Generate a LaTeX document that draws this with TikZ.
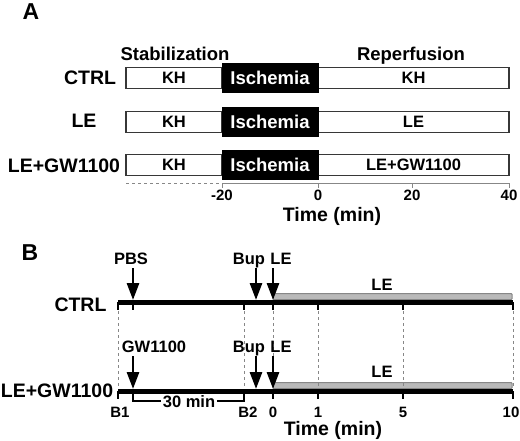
\documentclass[tikz,border=0pt]{standalone}
\usepackage{fontspec}
\setmainfont{Liberation Sans}
\usetikzlibrary{arrows.meta, positioning, calc}
\definecolor{mygray}{RGB}{135,135,135}
\definecolor{mybar}{RGB}{185,185,185}
\definecolor{myedge}{RGB}{55,55,55}

\begin{document}
\begin{tikzpicture}[x=1pt,y=-1pt,
          every node/.style={inner sep=0pt},
          big/.style={font=\fontsize{23}{24}\selectfont\bfseries},
          row/.style={font=\fontsize{19.5}{20}\selectfont\bfseries,anchor=base},
          hdr/.style={font=\fontsize{18.5}{20}\selectfont\bfseries,anchor=base},
          lab/.style={font=\fontsize{16.5}{18}\selectfont\bfseries,anchor=base},
          num/.style={font=\fontsize{15}{16}\selectfont\bfseries,anchor=base},
          wbox/.style={draw=myedge,line width=1.2pt,fill=white,minimum height=21pt,
                       font=\fontsize{16.5}{18}\selectfont\bfseries},
          bbox/.style={draw=black,fill=black,text=white,minimum width=96pt,
                       minimum height=29pt,font=\fontsize{18.5}{20}\selectfont\bfseries},
          tline/.style={line width=5pt},
          tk/.style={line width=1.2pt},
          bar/.style={draw=mygray,fill=mybar,line width=1pt,rounded corners=0.8pt},
          arr/.style={line width=2.8pt,-{Triangle[length=17pt,width=12pt]}},
          vdash/.style={mygray,dashed,line width=0.8pt}]
\useasboundingbox (0,0) rectangle (520,440);

\node[big] (pa) at (31,12) {A};
\node[hdr] (stab) at (175,60) {Stabilization};
\node[hdr] (rep) at (411,60) {Reperfusion};

\node[wbox,minimum width=96pt] (kh1) at (174,78) {KH};
\node[wbox,minimum width=191pt] (re1) at (413.5,78) {KH};
\node[bbox] (isc1) at (270,78) {Ischemia};
\node[row] (ctrlA) at (90,84) {CTRL};

\node[wbox,minimum width=96pt] (kh2) at (174,122) {KH};
\node[wbox,minimum width=191pt] (re2) at (413.5,122) {LE};
\node[bbox] (isc2) at (270,122) {Ischemia};
\node[row] (leA) at (84,127) {LE};

\node[wbox,minimum width=96pt] (kh3) at (174,165) {KH};
\node[wbox,minimum width=191pt] (re3) at (413.5,165) {LE+GW1100};
\node[bbox] (isc3) at (270,165) {Ischemia};
\node[row] (gwA) at (64,172) {LE+GW1100};

\coordinate (ax0) at (126,183);
\coordinate (ax1) at (222,183);
\coordinate (ax4) at (509,183);
\draw[vdash] (ax0) -- (ax1);
\draw[mygray,line width=1pt] (ax1) -- (ax4);
\foreach \x/\t in {222/-20,318/0,412/20,509/40}{
  \draw[mygray,line width=1pt] (\x,183) -- (\x,188);
  \node[num] at (\x,200) {\t};
}
\node[row] (timeA) at (332,221) {Time (min)};

\node[big] (pb) at (30,253) {B};

\coordinate (c0) at (118,302);
\coordinate (c1) at (513,302);
\coordinate (g0) at (118,391);
\coordinate (g1) at (513,391);
\draw[bar] (273,293.5) rectangle (512,299.5);
\draw[bar] (273,382.5) rectangle (512,388.5);
\draw[tline] (c0) -- (c1);
\draw[tline] (g0) -- (g1);

\node[row] (ctrlB) at (80.5,311) {CTRL};
\node[row] (gwB) at (57,397) {LE+GW1100};
\node[lab] (barA) at (382,290) {LE};
\node[lab] (barB) at (382,377) {LE};

\foreach \x in {118,133,244,273,318,403,513}
  \draw[tk] (\x,302) -- (\x,310);
\foreach \n/\x in {1/118,2/244,3/273,4/318,5/403,6/513}{
  \coordinate (up\n) at (\x,311);
  \coordinate (dn\n) at (\x,388);
  \draw[vdash] (up\n) -- (dn\n);
}
\foreach \x in {118,273,318,403,513}
  \draw[tk] (\x,391) -- (\x,399);

\node[lab] (pbs) at (131,264) {PBS};
\node[lab] (bupA) at (249,264) {Bup};
\node[lab] (leA2) at (281,264) {LE};
\node[lab] (gw) at (154,352) {GW1100};
\node[lab] (bupB) at (249,352) {Bup};
\node[lab] (leB2) at (281,352) {LE};

\coordinate (tP) at (133,300);
\coordinate (tBa) at (256,300);
\coordinate (tLa) at (273,300);
\coordinate (tG) at (133,389);
\coordinate (tBb) at (256,389);
\coordinate (tLb) at (273,389);
\draw[arr] ($(tP |- pbs.south)+(0,4)$) -- (tP);
\draw[arr] ($(tBa |- leA2.south)+(0,4)$) -- (tBa);
\draw[arr] ($(tLa |- leA2.south)+(0,4)$) -- (tLa);
\draw[arr] ($(tG |- gw.south)+(0,4)$) -- (tG);
\draw[arr] ($(tBb |- leB2.south)+(0,4)$) -- (tBb);
\draw[arr] ($(tLb |- leB2.south)+(0,4)$) -- (tLb);

\coordinate (br0) at (133,391);
\coordinate (br1) at (133,401);
\coordinate (br2) at (244,401);
\coordinate (br3) at (244,391);
\draw[tk] (br0) -- (br1) -- (br2) -- (br3);
\node[lab,fill=white,inner xsep=2pt] (thirty) at (189,407) {30 min};

\foreach \x/\t in {120/B1,248/B2,273/0,318/1,403/5,511/10}
  \node[num] at (\x,417) {\t};
\node[row] (timeB) at (333,435) {Time (min)};
\end{tikzpicture}
\end{document}
